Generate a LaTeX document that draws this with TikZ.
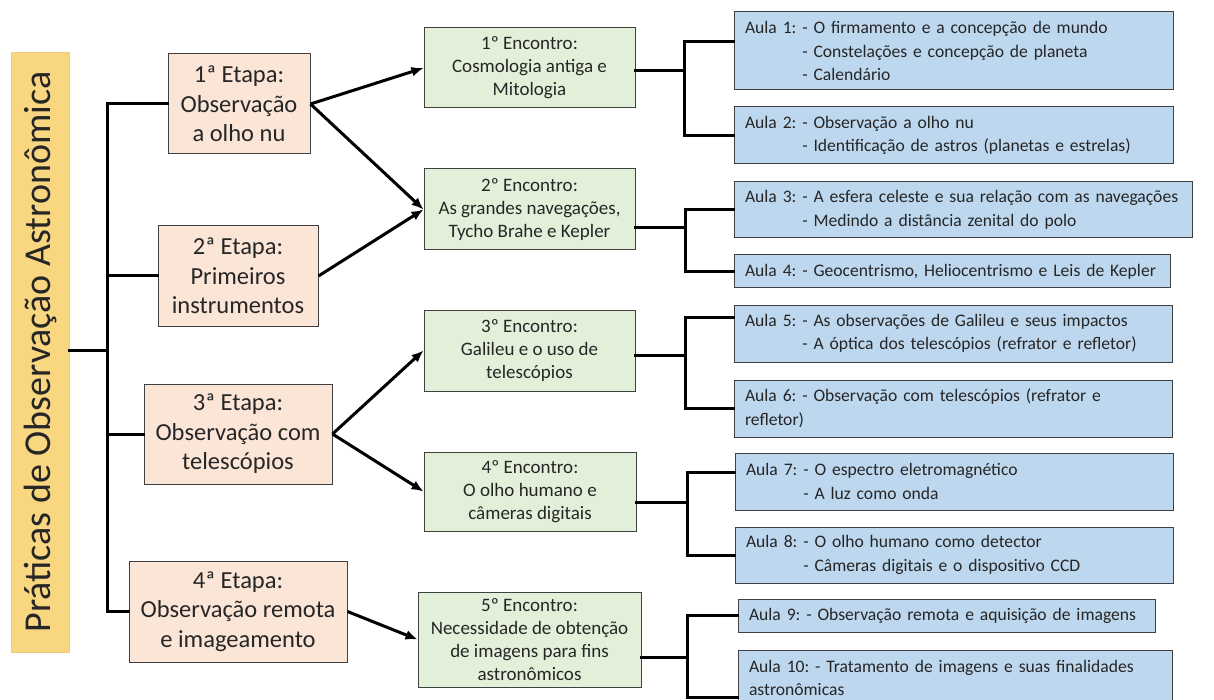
\documentclass[tikz,border=0pt]{standalone}
\usepackage{fontspec}
\setmainfont{Carlito}
\usetikzlibrary{arrows.meta}
\definecolor{stagefill}{HTML}{FBE5D6}
\definecolor{encfill}{HTML}{E2F0D9}
\definecolor{aulafill}{HTML}{BDD7EE}
\definecolor{titlefill}{HTML}{F9D680}
\definecolor{titleline}{HTML}{F2CC7A}
\definecolor{boxline}{HTML}{404040}
\definecolor{txt}{HTML}{262626}
\begin{document}
\frenchspacing
\hyphenpenalty=10000
\exhyphenpenalty=10000
\begin{tikzpicture}[x=1pt,y=-1pt,
  titlebox/.style={fill=titlefill, draw=titleline, line width=0.6pt, inner sep=0pt, text=txt,
    font=\fontsize{38}{44}\selectfont},
  stagebox/.style={fill=stagefill, draw=boxline, line width=1pt, inner sep=0pt, align=center, text=txt,
    font=\fontsize{24.5}{29.5}\selectfont},
  encbox/.style={fill=encfill, draw=boxline, line width=1pt, inner sep=0pt, align=center, text=txt,
    font=\fontsize{19}{23}\selectfont},
  aulabox/.style={fill=aulafill, draw=boxline, line width=1pt, inner xsep=11pt, inner ysep=0pt, align=left, text=txt,
    font=\fontsize{17.6}{23.5}\selectfont},
  conn/.style={line width=3pt, line join=miter, line cap=rect, black},
  arr/.style={line width=3pt, black, -{Latex[length=12pt,width=10pt]}}
]
\useasboundingbox (0,0) rectangle (1214,700);

% title
\node[titlebox, rotate=90, minimum width=600pt, minimum height=58pt] (title) at (40,352) {Práticas de Observação Astronômica};

% stages
\node[stagebox, minimum width=142pt, minimum height=100pt] (s1) at (239,104) {1ª Etapa:\\Observação\\a olho nu};
\node[stagebox, minimum width=160pt, minimum height=100pt] (s2) at (238,276) {2ª Etapa:\\Primeiros\\instrumentos};
\node[stagebox, minimum width=188pt, minimum height=100pt] (s3) at (238,434) {3ª Etapa:\\Observação com\\telescópios};
\node[stagebox, minimum width=218pt, minimum height=101pt] (s4) at (238,611.5) {4ª Etapa:\\Observação remota\\e imageamento};

% encontros
\node[encbox, minimum width=211pt, minimum height=80pt] (e1) at (529.5,68) {1º Encontro:\\Cosmologia antiga e\\Mitologia};
\node[encbox, minimum width=211pt, minimum height=81pt] (e2) at (529.5,209.5) {2º Encontro:\\As grandes navegações,\\Tycho Brahe e Kepler};
\node[encbox, minimum width=211pt, minimum height=81pt] (e3) at (529.5,350.5) {3º Encontro:\\Galileu e o uso de\\telescópios};
\node[encbox, minimum width=212pt, minimum height=79pt] (e4) at (530,491.5) {4º Encontro:\\O olho humano e\\câmeras digitais};
\node[encbox, minimum width=223pt, minimum height=95pt] (e5) at (529.5,639.5) {5º Encontro:\\Necessidade de obtenção\\de imagens para fins\\astronômicos};

% aulas
\node[aulabox, minimum width=439pt, text width=417pt, minimum height=78pt] (a1) at (953.5,51) {\mbox{Aula 1: - O firmamento e a concepção de mundo}\\\mbox{\phantom{Aula 1: }- Constelações e concepção de planeta}\\\mbox{\phantom{Aula 1: }- Calendário}};
\node[aulabox, minimum width=439pt, text width=417pt, minimum height=57pt] (a2) at (953.5,135.5) {\mbox{Aula 2: - Observação a olho nu}\\\mbox{\phantom{Aula 2: }- Identificação de astros (planetas e estrelas)}};
\node[aulabox, minimum width=458pt, text width=436pt, minimum height=56pt] (a3) at (963,210) {\mbox{Aula 3: - A esfera celeste e sua relação com as navegações}\\\mbox{\phantom{Aula 3: }- Medindo a distância zenital do polo}};
\node[aulabox, minimum width=436pt, text width=414pt, minimum height=33pt] (a4) at (952,271.5) {\mbox{Aula 4: - Geocentrismo, Heliocentrismo e Leis de Kepler}};
\node[aulabox, minimum width=438pt, text width=416pt, minimum height=57pt] (a5) at (953,333.5) {\mbox{Aula 5: - As observações de Galileu e seus impactos}\\\mbox{\phantom{Aula 5: }- A óptica dos telescópios (refrator e refletor)}};
\node[aulabox, minimum width=438pt, text width=416pt, minimum height=57pt] (a6) at (953,408.5) {\mbox{Aula 6: - Observação com telescópios (refrator e}\\refletor)};
\node[aulabox, minimum width=438pt, text width=416pt, minimum height=57pt] (a7) at (954,481.5) {\mbox{Aula 7: - O espectro eletromagnético}\\\mbox{\phantom{Aula 7: }- A luz como onda}};
\node[aulabox, minimum width=438pt, text width=416pt, minimum height=56pt] (a8) at (954,555) {\mbox{Aula 8: - O olho humano como detector}\\\mbox{\phantom{Aula 8: }- Câmeras digitais e o dispositivo CCD}};
\node[aulabox, minimum width=417pt, text width=395pt, minimum height=33pt] (a9) at (946.5,615.5) {\mbox{Aula 9: - Observação remota e aquisição de imagens}};
\node[aulabox, minimum width=434pt, text width=412pt, minimum height=56pt] (a10) at (955,678) {\mbox{Aula 10: - Tratamento de imagens e suas finalidades}\\astronômicas};

% trunk
\coordinate (tr) at (107,350);
\draw[conn] (title.south |- tr) -- (tr);
\draw[conn] (s1.west) -| (tr) |- (s4.west);
\draw[conn] (tr |- s2.west) -- (s2.west);
\draw[conn] (tr |- s3.west) -- (s3.west);

% arrows
\draw[arr] (s1.east) -- (e1.west);
\draw[arr] (s1.east) -- (e2.west);
\draw[arr] (s2.east) -- (e2.west);
\draw[arr] (s3.east) -- (e3.west);
\draw[arr] (s3.east) -- (e4.west);
\draw[arr] (s4.east) -- (e5.west);

% brackets
\coordinate (k1) at (684,71);
\coordinate (k2) at (685,228);
\coordinate (k3) at (685,355);
\coordinate (k4) at (687,502);
\coordinate (k5) at (687,657);
\draw[conn] (e1.east |- k1) -- (k1);
\draw[conn] (e2.east |- k2) -- (k2);
\draw[conn] (e3.east |- k3) -- (k3);
\draw[conn] (e4.east |- k4) -- (k4);
\draw[conn] (e5.east |- k5) -- (k5);
\draw[conn] ([yshift=9pt]a1.west) -| (k1) |- (a2.west);
\draw[conn] (a3.west) -| (k2) |- (a4.west);
\draw[conn] ([yshift=16.5pt]a5.west) -| (k3) |- (a6.west);
\draw[conn] ([yshift=9.5pt]a7.west) -| (k4) |- (a8.west);
\draw[conn] (a9.west) -| (k5) |- ([yshift=-19pt]a10.west);
\end{tikzpicture}
\end{document}
